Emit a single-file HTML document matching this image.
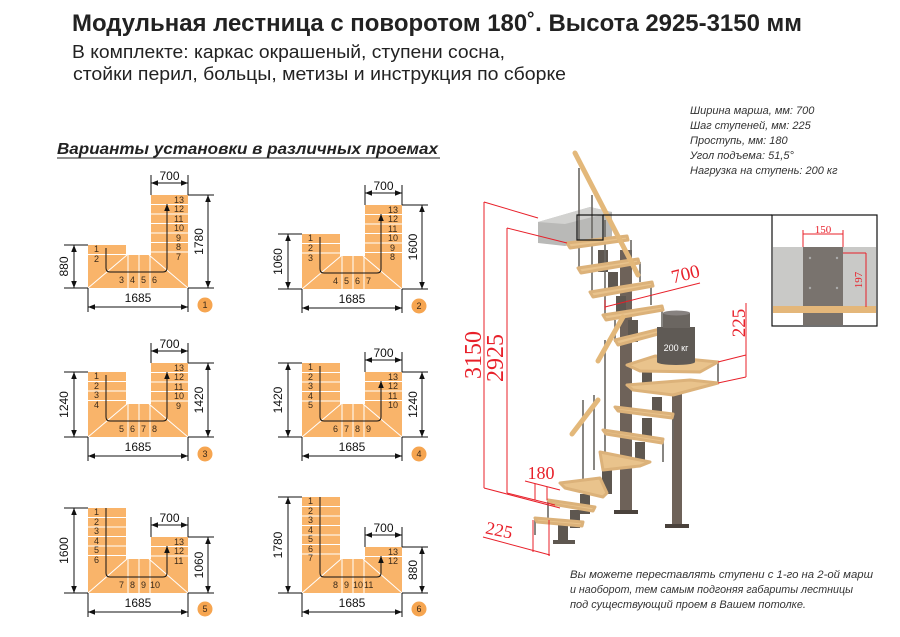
<!DOCTYPE html>
<html><head><meta charset="utf-8"><style>
html,body{margin:0;padding:0;background:#fff;}
svg{display:block;font-family:"Liberation Sans",sans-serif;}
.n{font-size:9px;fill:#3a2a1a;}
.d{font-size:12px;fill:#111;}
.r{fill:#e8202a;font-family:"Liberation Serif",serif;}
.pl{fill:#f9b46a;}
.w{stroke:#fff;stroke-width:1;}
.k{stroke:#111;stroke-width:1;fill:none;}
.wd{fill:#e9c38c;stroke:#dcb27a;stroke-width:3;stroke-linejoin:round;}
.po{stroke:#6b6763;stroke-width:1.6;}
.rl{stroke:#e8202a;stroke-width:1;fill:none;}
.sp{font-size:11px;font-style:italic;fill:#333;}
</style></head><body>
<svg width="900" height="637" viewBox="0 0 900 637">
<defs>
<marker id="a" viewBox="0 0 10 10" refX="10" refY="5" markerWidth="7" markerHeight="7" orient="auto-start-reverse"><path d="M0,1 L10,5 L0,9 z" fill="#111"/></marker>
</defs>
<text x="72" y="31" font-size="24" font-weight="bold" fill="#222" textLength="730" lengthAdjust="spacingAndGlyphs">Модульная лестница с поворотом 180˚. Высота 2925-3150 мм</text>
<text x="72" y="58" font-size="18" fill="#222" textLength="433" lengthAdjust="spacingAndGlyphs">В комплекте: каркас окрашеный, ступени сосна,</text>
<text x="73" y="80" font-size="18" fill="#222" textLength="493" lengthAdjust="spacingAndGlyphs">стойки перил, больцы, метизы и инструкция по сборке</text>
<text x="57" y="154" font-size="16" font-weight="bold" font-style="italic" fill="#222" textLength="381" lengthAdjust="spacingAndGlyphs">Варианты установки в различных проемах</text>
<line x1="57" y1="158" x2="440" y2="158" stroke="#222" stroke-width="1"/>

<!-- PLAN 1 -->
<g transform="translate(88,0)">
<rect class="pl" x="0" y="245" width="38" height="43"/><rect class="pl" x="63" y="195" width="37" height="93"/><rect class="pl" x="0" y="255" width="100" height="33"/>
<g class="w"><line x1="0" y1="254.5" x2="38" y2="254.5"/><line x1="63" y1="204.5" x2="100" y2="204.5"/><line x1="63" y1="214" x2="100" y2="214"/><line x1="63" y1="223.5" x2="100" y2="223.5"/><line x1="63" y1="233" x2="100" y2="233"/><line x1="63" y1="242.5" x2="100" y2="242.5"/><line x1="63" y1="252" x2="100" y2="252"/>
<line x1="0" y1="288" x2="39" y2="255"/><line x1="61" y1="255" x2="100" y2="288"/><line x1="40" y1="255" x2="40" y2="288"/><line x1="51" y1="255" x2="51" y2="288"/><line x1="62" y1="255" x2="62" y2="288"/></g>
<path class="k" d="M18,248 V268 Q18,272 22,272 H75 Q79,272 79,268 V204" marker-end="url(#a)"/>
<g class="n"><text x="6" y="252">1</text><text x="6" y="262">2</text><text x="31" y="283">3</text><text x="42" y="283">4</text><text x="53" y="283">5</text><text x="64" y="283">6</text>
<text x="86" y="203">13</text><text x="86" y="212">12</text><text x="86" y="222">11</text><text x="86" y="231">10</text><text x="88" y="241">9</text><text x="88" y="250">8</text><text x="88" y="260">7</text></g>
<g class="k"><line x1="63" y1="175" x2="63" y2="195"/><line x1="100" y1="175" x2="100" y2="195"/><line x1="63" y1="183" x2="100" y2="183" marker-start="url(#a)" marker-end="url(#a)"/>
<line x1="100" y1="195" x2="126" y2="195"/><line x1="100" y1="288" x2="126" y2="288"/><line x1="120" y1="195" x2="120" y2="288" marker-start="url(#a)" marker-end="url(#a)"/>
<line x1="-24" y1="245" x2="0" y2="245"/><line x1="-24" y1="288" x2="0" y2="288"/><line x1="-14" y1="245" x2="-14" y2="288" marker-start="url(#a)" marker-end="url(#a)"/>
<line x1="0" y1="288" x2="0" y2="312"/><line x1="100" y1="288" x2="100" y2="312"/><line x1="0" y1="307" x2="100" y2="307" marker-start="url(#a)" marker-end="url(#a)"/></g>
<text class="d" x="81.5" y="180" text-anchor="middle">700</text>
<text class="d" transform="translate(115,241.5) rotate(-90)" text-anchor="middle">1780</text>
<text class="d" transform="translate(-20,266.5) rotate(-90)" text-anchor="middle">880</text>
<text class="d" x="50" y="302" text-anchor="middle">1685</text>
<circle cx="117" cy="305" r="7.5" fill="#f6a550"/><text class="n" x="117" y="308" text-anchor="middle">1</text>
</g>

<!-- PLAN 2 -->
<g transform="translate(302,0)">
<rect class="pl" x="0" y="234" width="38" height="55"/><rect class="pl" x="63" y="205" width="37" height="84"/><rect class="pl" x="0" y="256" width="100" height="33"/>
<g class="w"><line x1="0" y1="243.5" x2="38" y2="243.5"/><line x1="0" y1="253" x2="38" y2="253"/><line x1="63" y1="214.5" x2="100" y2="214.5"/><line x1="63" y1="224" x2="100" y2="224"/><line x1="63" y1="233.5" x2="100" y2="233.5"/><line x1="63" y1="243" x2="100" y2="243"/><line x1="63" y1="252.5" x2="100" y2="252.5"/>
<line x1="0" y1="289" x2="39" y2="256"/><line x1="61" y1="256" x2="100" y2="289"/><line x1="40" y1="256" x2="40" y2="289"/><line x1="51" y1="256" x2="51" y2="289"/><line x1="62" y1="256" x2="62" y2="289"/></g>
<path class="k" d="M18,237 V269 Q18,273 22,273 H75 Q79,273 79,269 V214" marker-end="url(#a)"/>
<g class="n"><text x="6" y="241">1</text><text x="6" y="251">2</text><text x="6" y="261">3</text><text x="31" y="284">4</text><text x="42" y="284">5</text><text x="53" y="284">6</text><text x="64" y="284">7</text>
<text x="86" y="213">13</text><text x="86" y="222">12</text><text x="86" y="232">11</text><text x="86" y="241">10</text><text x="88" y="251">9</text><text x="88" y="260">8</text></g>
<g class="k"><line x1="63" y1="185" x2="63" y2="205"/><line x1="100" y1="185" x2="100" y2="205"/><line x1="63" y1="193" x2="100" y2="193" marker-start="url(#a)" marker-end="url(#a)"/>
<line x1="100" y1="205" x2="126" y2="205"/><line x1="100" y1="289" x2="126" y2="289"/><line x1="120" y1="205" x2="120" y2="289" marker-start="url(#a)" marker-end="url(#a)"/>
<line x1="-24" y1="234" x2="0" y2="234"/><line x1="-24" y1="289" x2="0" y2="289"/><line x1="-14" y1="234" x2="-14" y2="289" marker-start="url(#a)" marker-end="url(#a)"/>
<line x1="0" y1="289" x2="0" y2="313"/><line x1="100" y1="289" x2="100" y2="313"/><line x1="0" y1="308" x2="100" y2="308" marker-start="url(#a)" marker-end="url(#a)"/></g>
<text class="d" x="81.5" y="190" text-anchor="middle">700</text>
<text class="d" transform="translate(115,247) rotate(-90)" text-anchor="middle">1600</text>
<text class="d" transform="translate(-20,261.5) rotate(-90)" text-anchor="middle">1060</text>
<text class="d" x="50" y="303" text-anchor="middle">1685</text>
<circle cx="117" cy="306" r="7.5" fill="#f6a550"/><text class="n" x="117" y="309" text-anchor="middle">2</text>
</g>

<!-- PLAN 3 -->
<g transform="translate(88,0)">
<rect class="pl" x="0" y="372" width="38" height="65"/><rect class="pl" x="63" y="363" width="37" height="74"/><rect class="pl" x="0" y="404" width="100" height="33"/>
<g class="w"><line x1="0" y1="381.5" x2="38" y2="381.5"/><line x1="0" y1="391" x2="38" y2="391"/><line x1="0" y1="400.5" x2="38" y2="400.5"/><line x1="63" y1="372.5" x2="100" y2="372.5"/><line x1="63" y1="382" x2="100" y2="382"/><line x1="63" y1="391.5" x2="100" y2="391.5"/><line x1="63" y1="401" x2="100" y2="401"/>
<line x1="0" y1="437" x2="39" y2="404"/><line x1="61" y1="404" x2="100" y2="437"/><line x1="40" y1="404" x2="40" y2="437"/><line x1="51" y1="404" x2="51" y2="437"/><line x1="62" y1="404" x2="62" y2="437"/></g>
<path class="k" d="M18,375 V417 Q18,421 22,421 H75 Q79,421 79,417 V372" marker-end="url(#a)"/>
<g class="n"><text x="6" y="379">1</text><text x="6" y="389">2</text><text x="6" y="398">3</text><text x="6" y="408">4</text><text x="31" y="432">5</text><text x="42" y="432">6</text><text x="53" y="432">7</text><text x="64" y="432">8</text>
<text x="86" y="371">13</text><text x="86" y="380">12</text><text x="86" y="390">11</text><text x="86" y="399">10</text><text x="88" y="409">9</text></g>
<g class="k"><line x1="63" y1="343" x2="63" y2="363"/><line x1="100" y1="343" x2="100" y2="363"/><line x1="63" y1="351" x2="100" y2="351" marker-start="url(#a)" marker-end="url(#a)"/>
<line x1="100" y1="363" x2="126" y2="363"/><line x1="100" y1="437" x2="126" y2="437"/><line x1="120" y1="363" x2="120" y2="437" marker-start="url(#a)" marker-end="url(#a)"/>
<line x1="-24" y1="372" x2="0" y2="372"/><line x1="-24" y1="437" x2="0" y2="437"/><line x1="-14" y1="372" x2="-14" y2="437" marker-start="url(#a)" marker-end="url(#a)"/>
<line x1="0" y1="437" x2="0" y2="461"/><line x1="100" y1="437" x2="100" y2="461"/><line x1="0" y1="456" x2="100" y2="456" marker-start="url(#a)" marker-end="url(#a)"/></g>
<text class="d" x="81.5" y="348" text-anchor="middle">700</text>
<text class="d" transform="translate(115,400) rotate(-90)" text-anchor="middle">1420</text>
<text class="d" transform="translate(-20,404.5) rotate(-90)" text-anchor="middle">1240</text>
<text class="d" x="50" y="451" text-anchor="middle">1685</text>
<circle cx="117" cy="454" r="7.5" fill="#f6a550"/><text class="n" x="117" y="457" text-anchor="middle">3</text>
</g>

<!-- PLAN 4 -->
<g transform="translate(302,0)">
<rect class="pl" x="0" y="363" width="38" height="74"/><rect class="pl" x="63" y="372" width="37" height="65"/><rect class="pl" x="0" y="404" width="100" height="33"/>
<g class="w"><line x1="0" y1="372.5" x2="38" y2="372.5"/><line x1="0" y1="382" x2="38" y2="382"/><line x1="0" y1="391.5" x2="38" y2="391.5"/><line x1="0" y1="401" x2="38" y2="401"/><line x1="63" y1="381.5" x2="100" y2="381.5"/><line x1="63" y1="391" x2="100" y2="391"/><line x1="63" y1="400.5" x2="100" y2="400.5"/>
<line x1="0" y1="437" x2="39" y2="404"/><line x1="61" y1="404" x2="100" y2="437"/><line x1="40" y1="404" x2="40" y2="437"/><line x1="51" y1="404" x2="51" y2="437"/><line x1="62" y1="404" x2="62" y2="437"/></g>
<path class="k" d="M18,366 V417 Q18,421 22,421 H75 Q79,421 79,417 V381" marker-end="url(#a)"/>
<g class="n"><text x="6" y="370">1</text><text x="6" y="380">2</text><text x="6" y="389">3</text><text x="6" y="399">4</text><text x="6" y="408">5</text><text x="31" y="432">6</text><text x="42" y="432">7</text><text x="53" y="432">8</text><text x="64" y="432">9</text>
<text x="86" y="380">13</text><text x="86" y="389">12</text><text x="86" y="399">11</text><text x="86" y="408">10</text></g>
<g class="k"><line x1="63" y1="352" x2="63" y2="372"/><line x1="100" y1="352" x2="100" y2="372"/><line x1="63" y1="360" x2="100" y2="360" marker-start="url(#a)" marker-end="url(#a)"/>
<line x1="100" y1="372" x2="126" y2="372"/><line x1="100" y1="437" x2="126" y2="437"/><line x1="120" y1="372" x2="120" y2="437" marker-start="url(#a)" marker-end="url(#a)"/>
<line x1="-24" y1="363" x2="0" y2="363"/><line x1="-24" y1="437" x2="0" y2="437"/><line x1="-14" y1="363" x2="-14" y2="437" marker-start="url(#a)" marker-end="url(#a)"/>
<line x1="0" y1="437" x2="0" y2="461"/><line x1="100" y1="437" x2="100" y2="461"/><line x1="0" y1="456" x2="100" y2="456" marker-start="url(#a)" marker-end="url(#a)"/></g>
<text class="d" x="81.5" y="357" text-anchor="middle">700</text>
<text class="d" transform="translate(115,404.5) rotate(-90)" text-anchor="middle">1240</text>
<text class="d" transform="translate(-20,400) rotate(-90)" text-anchor="middle">1420</text>
<text class="d" x="50" y="451" text-anchor="middle">1685</text>
<circle cx="117" cy="454" r="7.5" fill="#f6a550"/><text class="n" x="117" y="457" text-anchor="middle">4</text>
</g>

<!-- PLAN 5 -->
<g transform="translate(88,0)">
<rect class="pl" x="0" y="508" width="38" height="85"/><rect class="pl" x="63" y="537" width="37" height="56"/><rect class="pl" x="0" y="559" width="100" height="34"/>
<g class="w"><line x1="0" y1="517.5" x2="38" y2="517.5"/><line x1="0" y1="527" x2="38" y2="527"/><line x1="0" y1="536.5" x2="38" y2="536.5"/><line x1="0" y1="546" x2="38" y2="546"/><line x1="0" y1="555.5" x2="38" y2="555.5"/><line x1="63" y1="546.5" x2="100" y2="546.5"/><line x1="63" y1="556" x2="100" y2="556"/>
<line x1="0" y1="593" x2="39" y2="559"/><line x1="61" y1="559" x2="100" y2="593"/><line x1="40" y1="559" x2="40" y2="593"/><line x1="51" y1="559" x2="51" y2="593"/><line x1="62" y1="559" x2="62" y2="593"/></g>
<path class="k" d="M18,508 V573 Q18,577 22,577 H75 Q79,577 79,573 V546" marker-end="url(#a)"/>
<g class="n"><text x="6" y="515">1</text><text x="6" y="525">2</text><text x="6" y="534">3</text><text x="6" y="544">4</text><text x="6" y="553">5</text><text x="6" y="563">6</text><text x="31" y="588">7</text><text x="42" y="588">8</text><text x="53" y="588">9</text><text x="62" y="588">10</text>
<text x="86" y="545">13</text><text x="86" y="554">12</text><text x="86" y="564">11</text></g>
<g class="k"><line x1="63" y1="517" x2="63" y2="537"/><line x1="100" y1="517" x2="100" y2="537"/><line x1="63" y1="525" x2="100" y2="525" marker-start="url(#a)" marker-end="url(#a)"/>
<line x1="100" y1="537" x2="126" y2="537"/><line x1="100" y1="593" x2="126" y2="593"/><line x1="120" y1="537" x2="120" y2="593" marker-start="url(#a)" marker-end="url(#a)"/>
<line x1="-24" y1="508" x2="0" y2="508"/><line x1="-24" y1="593" x2="0" y2="593"/><line x1="-14" y1="508" x2="-14" y2="593" marker-start="url(#a)" marker-end="url(#a)"/>
<line x1="0" y1="593" x2="0" y2="617"/><line x1="100" y1="593" x2="100" y2="617"/><line x1="0" y1="612" x2="100" y2="612" marker-start="url(#a)" marker-end="url(#a)"/></g>
<text class="d" x="81.5" y="522" text-anchor="middle">700</text>
<text class="d" transform="translate(115,565) rotate(-90)" text-anchor="middle">1060</text>
<text class="d" transform="translate(-20,550.5) rotate(-90)" text-anchor="middle">1600</text>
<text class="d" x="50" y="607" text-anchor="middle">1685</text>
<circle cx="117" cy="609" r="7.5" fill="#f6a550"/><text class="n" x="117" y="612" text-anchor="middle">5</text>
</g>

<!-- PLAN 6 -->
<g transform="translate(302,0)">
<rect class="pl" x="0" y="497" width="38" height="96"/><rect class="pl" x="63" y="547" width="37" height="46"/><rect class="pl" x="0" y="559" width="100" height="34"/>
<g class="w"><line x1="0" y1="506.5" x2="38" y2="506.5"/><line x1="0" y1="516" x2="38" y2="516"/><line x1="0" y1="525.5" x2="38" y2="525.5"/><line x1="0" y1="535" x2="38" y2="535"/><line x1="0" y1="544.5" x2="38" y2="544.5"/><line x1="0" y1="554" x2="38" y2="554"/><line x1="63" y1="556.5" x2="100" y2="556.5"/>
<line x1="0" y1="593" x2="39" y2="559"/><line x1="61" y1="559" x2="100" y2="593"/><line x1="40" y1="559" x2="40" y2="593"/><line x1="51" y1="559" x2="51" y2="593"/><line x1="62" y1="559" x2="62" y2="593"/></g>
<path class="k" d="M18,497 V573 Q18,577 22,577 H75 Q79,577 79,573 V556" marker-end="url(#a)"/>
<g class="n"><text x="6" y="504">1</text><text x="6" y="514">2</text><text x="6" y="523">3</text><text x="6" y="533">4</text><text x="6" y="542">5</text><text x="6" y="552">6</text><text x="6" y="561">7</text><text x="31" y="588">8</text><text x="42" y="588">9</text><text x="51" y="588">10</text><text x="62" y="588">11</text>
<text x="86" y="555">13</text><text x="86" y="564">12</text></g>
<g class="k"><line x1="63" y1="527" x2="63" y2="547"/><line x1="100" y1="527" x2="100" y2="547"/><line x1="63" y1="535" x2="100" y2="535" marker-start="url(#a)" marker-end="url(#a)"/>
<line x1="100" y1="547" x2="126" y2="547"/><line x1="100" y1="593" x2="126" y2="593"/><line x1="120" y1="547" x2="120" y2="593" marker-start="url(#a)" marker-end="url(#a)"/>
<line x1="-24" y1="497" x2="0" y2="497"/><line x1="-24" y1="593" x2="0" y2="593"/><line x1="-14" y1="497" x2="-14" y2="593" marker-start="url(#a)" marker-end="url(#a)"/>
<line x1="0" y1="593" x2="0" y2="617"/><line x1="100" y1="593" x2="100" y2="617"/><line x1="0" y1="612" x2="100" y2="612" marker-start="url(#a)" marker-end="url(#a)"/></g>
<text class="d" x="81.5" y="532" text-anchor="middle">700</text>
<text class="d" transform="translate(115,570) rotate(-90)" text-anchor="middle">880</text>
<text class="d" transform="translate(-20,545) rotate(-90)" text-anchor="middle">1780</text>
<text class="d" x="50" y="607" text-anchor="middle">1685</text>
<circle cx="117" cy="609" r="7.5" fill="#f6a550"/><text class="n" x="117" y="612" text-anchor="middle">6</text>
</g>

<!-- SPEC TEXT -->
<text class="sp" x="690" y="114">Ширина марша, мм: 700</text>
<text class="sp" x="690" y="129">Шаг ступеней, мм: 225</text>
<text class="sp" x="690" y="144">Проступь, мм: 180</text>
<text class="sp" x="690" y="159">Угол подъема: 51,5°</text>
<text class="sp" x="690" y="174">Нагрузка на ступень: 200 кг</text>

<!-- STAIR -->
<rect x="620" y="250" width="12" height="263" fill="#6e6259"/>
<rect x="614" y="510" width="24" height="4" fill="#4a423c"/>
<rect x="672" y="385" width="10" height="142" fill="#6e6259"/>
<rect x="665" y="524" width="24" height="4" fill="#4a423c"/>
<g fill="#5e5750">
<rect x="598" y="250" width="10" height="22"/><rect x="608" y="272" width="10" height="22"/><rect x="616" y="296" width="10" height="22"/><rect x="628" y="320" width="10" height="22"/>
<rect x="642" y="372" width="10" height="16"/><rect x="652" y="397" width="10" height="20"/><rect x="642" y="418" width="10" height="20"/><rect x="635" y="442" width="10" height="20"/>
<rect x="602" y="464" width="10" height="30"/><rect x="580" y="494" width="10" height="20"/><rect x="570" y="510" width="10" height="18"/><rect x="558" y="525" width="10" height="18"/><rect x="553" y="540" width="22" height="4"/>
</g>
<polygon points="538,222 590,207 612,212 612,238 565,246 538,243" fill="#b9b9b7"/>
<polygon points="538,222 590,207 612,212 565,224" fill="#d2d2d0"/>
<g class="po">
<line x1="579" y1="168" x2="579" y2="268"/><line x1="592" y1="195" x2="592" y2="295"/><line x1="605" y1="220" x2="605" y2="315"/>
<line x1="631" y1="240" x2="631" y2="260"/><line x1="640" y1="262" x2="640" y2="282"/><line x1="651" y1="285" x2="651" y2="305"/><line x1="662" y1="305" x2="662" y2="328"/>
<line x1="615" y1="320" x2="615" y2="342"/><line x1="605" y1="340" x2="605" y2="460"/>
<line x1="718" y1="363" x2="718" y2="383"/><line x1="673" y1="415" x2="673" y2="440"/><line x1="663" y1="440" x2="663" y2="462"/>
<line x1="583" y1="400" x2="583" y2="483"/><line x1="594" y1="395" x2="594" y2="470"/><line x1="548" y1="500" x2="548" y2="518"/><line x1="535" y1="518" x2="535" y2="535"/>
</g>
<g class="wd">
<polygon points="567,243 627,236 628,240 570,248"/>
<polygon points="578,268 638,259 639,263 581,273"/>
<polygon points="590,292 652,282 653,286 593,297"/>
<polygon points="603,315 662,306 663,310 606,320"/>
<polygon points="615,340 660,329 662,333 618,345"/>
<polygon points="627,365 655,356 718,362 700,372 640,371"/>
<polygon points="627,385 690,380 718,383 673,395 633,390"/>
<polygon points="615,407 673,414 672,418 618,411"/>
<polygon points="603,430 663,439 662,443 606,434"/>
<polygon points="600,452 650,462 640,466 603,470"/>
<polygon points="560,483 600,478 607,493 603,497 565,488"/>
<polygon points="548,500 595,507 593,511 552,504"/>
<polygon points="535,518 583,522 582,526 537,522"/>
</g>
<g stroke="#e3b87a" stroke-width="5" stroke-linecap="round">
<line x1="575" y1="153" x2="638" y2="275"/>
<line x1="623" y1="317" x2="598" y2="361"/>
<line x1="598" y1="400" x2="572" y2="434"/>
</g>
<rect x="657" y="327" width="38" height="35" fill="#5f5a55"/>
<ellipse cx="676" cy="362" rx="19" ry="3" fill="#5f5a55"/>
<rect x="663" y="313" width="27" height="15" fill="#6b6661"/>
<ellipse cx="676.5" cy="313" rx="13.5" ry="2.5" fill="#878280"/>
<text x="676" y="351" font-size="9" fill="#fff" text-anchor="middle">200 кг</text>
<rect x="577" y="215" width="26" height="25" fill="none" stroke="#111" stroke-width="1.2"/>
<line x1="603" y1="215" x2="772" y2="215" stroke="#111" stroke-width="1.2"/>
<rect x="772" y="215" width="105" height="111" fill="#fff" stroke="#111" stroke-width="1.2"/>
<rect x="773" y="247" width="103" height="60" fill="#c9c9c7"/>
<rect x="803" y="247" width="40" height="60" fill="#79736e"/>
<rect x="773" y="306" width="103" height="7" fill="#e4b77a"/>
<rect x="803" y="313" width="40" height="12" fill="#77716c"/>
<g fill="#aaa"><circle cx="810" cy="258" r="1.2"/><circle cx="837" cy="258" r="1.2"/><circle cx="810" cy="288" r="1.2"/><circle cx="837" cy="288" r="1.2"/></g>
<g class="rl"><line x1="803" y1="234" x2="843" y2="234"/><line x1="803" y1="230" x2="803" y2="247"/><line x1="843" y1="230" x2="843" y2="247"/><line x1="843" y1="253" x2="866" y2="253"/><line x1="866" y1="253" x2="866" y2="307"/></g>
<text class="r" x="823" y="233" font-size="11" text-anchor="middle">150</text>
<text class="r" transform="translate(862,280) rotate(-90)" font-size="11" text-anchor="middle">197</text>
<g class="rl">
<line x1="484" y1="202" x2="484" y2="488"/><line x1="484" y1="202" x2="538" y2="218"/><line x1="484" y1="488" x2="560" y2="508"/>
<line x1="507" y1="228" x2="507" y2="493"/><line x1="507" y1="228" x2="567" y2="243"/><line x1="507" y1="493" x2="555" y2="505"/>
<line x1="605" y1="307" x2="700" y2="283"/><line x1="605" y1="300" x2="605" y2="310"/>
<line x1="746" y1="303" x2="746" y2="377"/><line x1="718" y1="362" x2="746" y2="355"/><line x1="718" y1="383" x2="746" y2="377"/>
<line x1="483" y1="537" x2="550" y2="555"/><line x1="533" y1="520" x2="533" y2="552"/><line x1="549" y1="520" x2="549" y2="556"/>
<line x1="525" y1="481" x2="560" y2="490"/><line x1="535" y1="484" x2="535" y2="500"/><line x1="547" y1="487" x2="547" y2="500"/>
</g>
<text class="r" transform="translate(481,355) rotate(-90)" font-size="24" text-anchor="middle">3150</text>
<text class="r" transform="translate(503,358) rotate(-90)" font-size="24" text-anchor="middle">2925</text>
<text class="r" transform="translate(687,280) rotate(-14)" font-size="19" text-anchor="middle">700</text>
<text class="r" transform="translate(745,323) rotate(-90)" font-size="19" text-anchor="middle">225</text>
<text class="r" x="541" y="479" font-size="18" text-anchor="middle">180</text>
<text class="r" transform="translate(498,536) rotate(12)" font-size="18" text-anchor="middle">225</text>

<text class="sp" x="570" y="578" textLength="303" lengthAdjust="spacingAndGlyphs">Вы можете переставлять ступени с 1-го на 2-ой марш</text>
<text class="sp" x="570" y="593" textLength="283" lengthAdjust="spacingAndGlyphs">и наоборот, тем самым подгоняя габариты лестницы</text>
<text class="sp" x="570" y="608" textLength="236" lengthAdjust="spacingAndGlyphs">под существующий проем в Вашем потолке.</text>
</svg>
</body></html>
